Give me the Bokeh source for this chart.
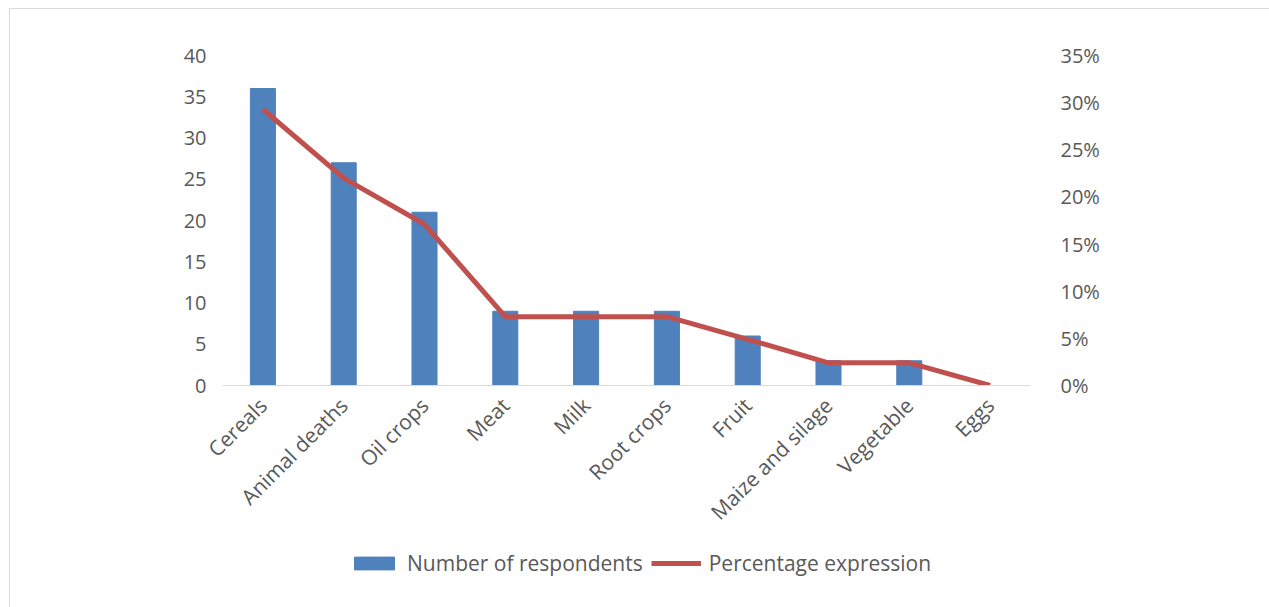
from math import pi
from bokeh.plotting import figure
from bokeh.layouts import column
from bokeh.models import (LinearAxis, Range1d, FactorRange, FixedTicker,
                          PrintfTickFormatter, Legend, LegendItem)
from bokeh.embed import file_html
from bokeh.resources import INLINE

categories = ["Cereals", "Animal deaths", "Oil crops", "Meat", "Milk",
              "Root crops", "Fruit", "Maize and silage", "Vegetable", "Eggs"]
respondents = [36, 27, 21, 9, 9, 9, 6, 3, 3, 0]
percentage = [29.3, 22.0, 17.1, 7.3, 7.3, 7.3, 4.9, 2.4, 2.4, 0.0]
left_ticks = [0, 5, 10, 15, 20, 25, 30, 35, 40]
right_ticks = [0, 5, 10, 15, 20, 25, 30, 35]

FONT = "Open Sans"
TXT = "#595959"
BAR = "#4f81bd"
LINE = "#c0504d"
FS = "20px"

p = figure(width=1260, height=530, x_range=FactorRange(*categories),
           y_range=Range1d(0, 40), output_backend="svg", toolbar_location=None,
           min_border_left=212, min_border_right=240, min_border_top=46,
           min_border_bottom=154)
p.outline_line_color = None
p.grid.visible = False
p.extra_y_ranges = {"pct": Range1d(0, 35)}

p.vbar(x=categories, top=respondents, width=0.31, color=BAR)
p.line(x=categories, y=percentage, y_range_name="pct", color=LINE,
       line_width=5, line_join="round")

xa = p.xaxis[0]
xa.axis_line_color = "#d9d9d9"
xa.major_tick_line_color = None
xa.minor_tick_line_color = None
xa.major_label_orientation = pi / 4
xa.major_label_text_font = FONT
xa.major_label_text_font_size = "21px"
xa.major_label_text_color = TXT
xa.major_label_standoff = 10

ya = p.yaxis[0]
ya.ticker = FixedTicker(ticks=left_ticks)
ya.axis_line_color = None
ya.major_tick_line_color = None
ya.minor_tick_line_color = None
ya.major_label_text_font = FONT
ya.major_label_text_font_size = FS
ya.major_label_text_color = TXT
ya.major_label_standoff = 10

ra = LinearAxis(y_range_name="pct", ticker=FixedTicker(ticks=right_ticks),
                formatter=PrintfTickFormatter(format="%d%%"))
ra.axis_line_color = None
ra.major_tick_line_color = None
ra.minor_tick_line_color = None
ra.major_label_text_font = FONT
ra.major_label_text_font_size = FS
ra.major_label_text_color = TXT
ra.major_label_standoff = 24
p.add_layout(ra, "right")

# legend strip below the chart
lf = figure(width=1260, height=68, x_range=FactorRange(*categories),
            y_range=Range1d(0, 40), output_backend="svg", toolbar_location=None,
            x_axis_location=None, y_axis_location=None,
            min_border=0, min_border_left=0, min_border_right=0,
            min_border_top=0, min_border_bottom=0)
lf.outline_line_color = None
lf.grid.visible = False
lbars = lf.vbar(x=categories, top=respondents, width=0.31, color=BAR, visible=False)
lline = lf.line(x=categories, y=respondents, color=LINE, line_width=5, visible=False)
legend = Legend(items=[LegendItem(label="Number of respondents", renderers=[lbars]),
                       LegendItem(label="Percentage expression", renderers=[lline])],
                location=(127, 30), orientation="horizontal",
                glyph_width=50, glyph_height=16, label_standoff=8, spacing=8,
                padding=0, margin=0, border_line_color=None,
                background_fill_alpha=0, inactive_fill_alpha=0,
                label_text_font=FONT, label_text_font_size="21px",
                label_text_color=TXT)
lf.add_layout(legend, "center")

layout = column(p, lf, spacing=0,
                styles={"margin-left": "9px", "margin-top": "8px",
                        "border-left": "1px solid #d9d9d9",
                        "border-top": "1px solid #d9d9d9"})

open("out.html", "w").write(file_html(layout, INLINE))
